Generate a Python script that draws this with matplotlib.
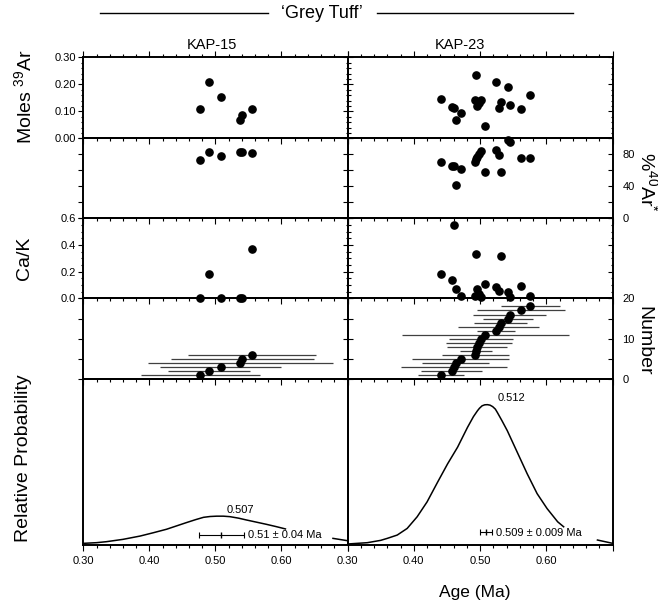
import numpy as np
import matplotlib.pyplot as plt
from matplotlib.lines import Line2D
from matplotlib.ticker import MultipleLocator, FuncFormatter

plt.rcParams['font.family'] = ['Liberation Sans', 'DejaVu Sans']
plt.rcParams['mathtext.fontset'] = 'custom'
plt.rcParams['mathtext.rm'] = 'Liberation Sans'
plt.rcParams['mathtext.it'] = 'Liberation Sans:italic'

# ---- data ----
samples = ['KAP-15', 'KAP-23']

# single-crystal ages (Ma), sorted, and the half-width of each error bar
kap15_age = [0.477, 0.490, 0.508, 0.538, 0.541, 0.555]
kap15_err = [0.090, 0.062, 0.092, 0.140, 0.108, 0.097]
kap15_moles = [0.110, 0.207, 0.154, 0.069, 0.087, 0.110]
kap15_rad = [73, 83, 78, 83, 83, 82]
kap15_cak = [0.0, 0.18, 0.0, 0.0, 0.0, 0.37]

kap23_age = [0.441, 0.457, 0.460, 0.463, 0.471, 0.493, 0.494, 0.495, 0.498,
             0.501, 0.508, 0.524, 0.528, 0.531, 0.542, 0.545, 0.562, 0.576]
kap23_err = [0.034, 0.046, 0.080, 0.050, 0.073, 0.050, 0.024, 0.045, 0.050,
             0.048, 0.126, 0.028, 0.061, 0.040, 0.038, 0.055, 0.066, 0.045]
kap23_moles = [0.147, 0.115, 0.111, 0.067, 0.093, 0.143, 0.234, 0.120, 0.130,
               0.143, 0.044, 0.209, 0.111, 0.134, 0.190, 0.123, 0.107, 0.159]
kap23_rad = [70, 65, 65, 42, 62, 70, 74, 77, 80,
             84, 58, 85, 79, 58, 98, 96, 75, 75]
kap23_cak = [0.18, 0.14, 0.55, 0.07, 0.02, 0.02, 0.33, 0.07, 0.03,
             0.01, 0.11, 0.085, 0.055, 0.32, 0.045, 0.01, 0.09, 0.02]

# relative probability curves (fraction of panel height), gaps where the label sits
kap15_pdf_age = [0.300, 0.320, 0.335, 0.360, 0.386, 0.406, 0.426, 0.441, 0.456,
                 0.470, 0.482, 0.492, 0.502, 0.512, 0.522, 0.535, 0.547, 0.562,
                 0.577, 0.592, 0.606, 0.640, 0.678, 0.700]
kap15_pdf = [0.010, 0.014, 0.020, 0.034, 0.054, 0.074, 0.095, 0.115, 0.135,
             0.153, 0.167, 0.172, 0.174, 0.174, 0.171, 0.162, 0.151, 0.138,
             0.125, 0.111, 0.097, np.nan, 0.040, 0.026]
kap23_pdf_age = [0.300, 0.330, 0.350, 0.360, 0.375, 0.390, 0.405, 0.420, 0.436,
                 0.451, 0.466, 0.481, 0.490, 0.496, 0.499, 0.503, 0.507, 0.511,
                 0.515, 0.519, 0.523, 0.526, 0.533, 0.541, 0.556, 0.571, 0.586,
                 0.601, 0.617, 0.626, 0.650, 0.677, 0.700]
kap23_pdf = [0.006, 0.014, 0.028, 0.040, 0.060, 0.100, 0.170, 0.260, 0.380,
             0.490, 0.590, 0.710, 0.775, 0.810, 0.825, 0.840, 0.846, 0.847,
             0.844, 0.835, 0.820, 0.800, 0.750, 0.690, 0.560, 0.430, 0.310,
             0.220, 0.140, 0.110, np.nan, 0.030, 0.010]

peak_labels = ['0.507', '0.512']
wm_age = [0.509, 0.509]
wm_err = [0.034, 0.009]
wm_labels = ['0.51 \u00b1 0.04 Ma', '0.509 \u00b1 0.009 Ma']

ages = [kap15_age, kap23_age]
errs = [kap15_err, kap23_err]
moles = [kap15_moles, kap23_moles]
rads = [kap15_rad, kap23_rad]
caks = [kap15_cak, kap23_cak]
pdf_ages = [kap15_pdf_age, kap23_pdf_age]
pdfs = [kap15_pdf, kap23_pdf]

# ---- layout (pixels of a 658x608 figure) ----
W, H = 658, 608
col_x = [(83.3, 347.5), (347.5, 612.7)]
row_y = [57.3, 138.3, 218.3, 298.3, 379.3, 545.0]

# per row: ylim, major step, minor step, labelled ticks, format
rows = [
    ((0, 0.30), 0.10, 0.02, [0.0, 0.1, 0.2, 0.3], '{:.2f}'),
    ((0, 100), 20, None, [0, 40, 80], '{:.0f}'),
    ((0, 0.6), 0.2, 0.05, [0.0, 0.2, 0.4, 0.6], '{:.1f}'),
    ((0, 20), 5, None, [0, 10, 20], '{:.0f}'),
    ((0, 1), None, None, [], ''),
]
label_col = [0, 1, 0, 1, None]


def make_fmt(shown, fmt):
    def f(v, pos):
        for s in shown:
            if abs(v - s) < 1e-6:
                return fmt.format(v)
        return ''
    return FuncFormatter(f)


def setup_y(a, r, direction, side, labels):
    lim, major, minor, shown, fmt = rows[r]
    a.set_ylim(*lim)
    if major is None:
        a.tick_params(axis='y', left=False, right=False, labelleft=False, labelright=False)
        return
    a.yaxis.set_major_locator(MultipleLocator(major))
    if minor:
        a.yaxis.set_minor_locator(MultipleLocator(minor))
    a.yaxis.set_major_formatter(make_fmt(shown, fmt))
    a.tick_params(axis='y', which='both', direction=direction, width=0.8,
                  left=(side == 'left'), right=(side == 'right'),
                  labelleft=(side == 'left' and labels),
                  labelright=(side == 'right' and labels),
                  labelsize=8, pad=(1.5 if direction == 'out' else 7))
    a.tick_params(axis='y', which='major', length=3.8)
    a.tick_params(axis='y', which='minor', length=1.8)


fig = plt.figure(figsize=(W / 100, H / 100), dpi=100)

for c in range(2):
    x0, x1 = col_x[c]
    for r in range(5):
        y0, y1 = row_y[r], row_y[r + 1]
        ax = fig.add_axes([x0 / W, 1 - y1 / H, (x1 - x0) / W, (y1 - y0) / H])
        ax.patch.set_visible(False)
        for s in ax.spines.values():
            s.set_linewidth(1.4)
        ax.set_xlim(0.30, 0.70)
        ax.xaxis.set_major_locator(MultipleLocator(0.1))
        ax.xaxis.set_minor_locator(MultipleLocator(0.02))
        ax.xaxis.set_major_formatter(FuncFormatter(
            lambda v, p: '' if v > 0.65 else '{:.2f}'.format(v)))
        ax.tick_params(axis='x', which='both', direction='out', width=0.8,
                       bottom=True, top=(r == 0), labelbottom=(r == 4),
                       labelsize=8)
        ax.tick_params(axis='x', which='major', length=4.3)
        ax.tick_params(axis='x', which='minor', length=2.3)

        # left column: labels outside on the left; right column: labels on the right
        setup_y(ax, r, 'out' if c == 0 else 'in', 'left', c == 0 and label_col[r] == 0)
        if r < 4:
            tw = ax.twinx()
            tw.patch.set_visible(False)
            for s in tw.spines.values():
                s.set_visible(False)
            setup_y(tw, r, 'in', 'right', c == 1 and label_col[r] == 1)

        a = ages[c]
        if r == 0:
            ax.plot(a, moles[c], 'o', color='k', ms=5.2, clip_on=False, zorder=5)
        elif r == 1:
            ax.plot(a, rads[c], 'o', color='k', ms=5.2, clip_on=False, zorder=5)
        elif r == 2:
            ax.plot(a, caks[c], 'o', color='k', ms=5.2, clip_on=False, zorder=5)
        elif r == 3:
            n = np.arange(1, len(a) + 1)
            lo = np.array(a) - np.array(errs[c])
            hi = np.array(a) + np.array(errs[c])
            ax.hlines(n, lo, hi, color='0.25', lw=0.9, zorder=3)
            ax.plot(a, n, 'o', color='k', ms=5.2, clip_on=False, zorder=5)
        else:
            ax.plot(pdf_ages[c], pdfs[c], color='k', lw=1.1)
            pk = int(np.nanargmax(pdfs[c]))
            ax.text(pdf_ages[c][pk] + 0.036, pdfs[c][pk] + 0.01, peak_labels[c],
                    fontsize=8, ha='center', va='bottom')
            wy = [0.062, 0.077][c]
            ax.errorbar([wm_age[c]], [wy], xerr=[wm_err[c]], fmt='|', color='k',
                        ms=5, lw=0.8, capsize=2.5, capthick=0.8)
            ax.text(wm_age[c] + wm_err[c] + 0.006, wy - 0.004, wm_labels[c],
                    fontsize=8, ha='left', va='center')

# sample names
fig.text(211.7 / W, 1 - 45.3 / H, samples[0], fontsize=10.5, ha='center', va='center')
fig.text(460 / W, 1 - 45.3 / H, samples[1], fontsize=10.5, ha='center', va='center')

# title with rules either side
fig.text(322 / W, 1 - 14 / H, '\u2018Grey Tuff\u2019', fontsize=13, ha='center', va='center')
ty = 1 - 13 / H
fig.add_artist(Line2D([100 / W, 268 / W], [ty, ty], color='k', lw=1.0))
fig.add_artist(Line2D([377 / W, 573 / W], [ty, ty], color='k', lw=1.0))

# axis titles
fig.text(24 / W, 1 - 97 / H, 'Moles $^{39}$Ar', fontsize=14, rotation=90,
         ha='center', va='center')
fig.text(24 / W, 1 - 258 / H, 'Ca/K', fontsize=14, rotation=90, ha='center', va='center')
fig.text(24 / W, 1 - 458 / H, 'Relative Probability', fontsize=14, rotation=90,
         ha='center', va='center')
fig.text(648 / W, 1 - 182 / H, '%$^{40}$Ar$^{*}$', fontsize=14, rotation=-90,
         ha='center', va='center')
fig.text(644 / W, 1 - 341 / H, 'Number', fontsize=14, rotation=-90,
         ha='center', va='center')
fig.text(475 / W, 1 - 593 / H, 'Age (Ma)', fontsize=12.5, ha='center', va='center')

fig.savefig('out.png', dpi=100)
